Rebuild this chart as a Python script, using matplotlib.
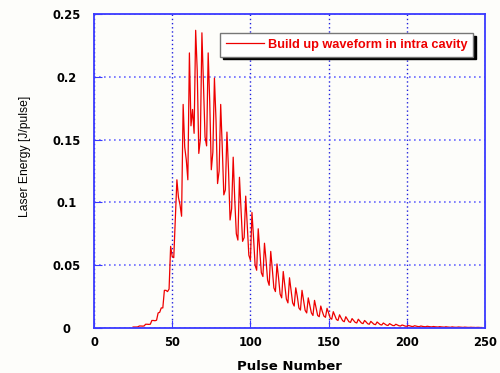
import numpy as np
import matplotlib
matplotlib.use("Agg")
import matplotlib.pyplot as plt

# pulse numbers and energy per pulse [J/pulse]
pulse = np.arange(25, 249)
energy = [
    0.0008, 0.0008, 0.0008, 0.0009,   # 25
    0.0016, 0.0016, 0.0015, 0.0016,   # 29
    0.0030, 0.0030, 0.0029, 0.0030,   # 33
    0.0060, 0.0060, 0.0058, 0.0062,   # 37
    0.0120, 0.0125, 0.0160, 0.0160,   # 41
    0.0300, 0.0300, 0.0290, 0.0310,   # 45
    0.0650, 0.0570, 0.0560, 0.0880,   # 49
    0.1180, 0.1040, 0.0980, 0.0890,   # 53
    0.1780, 0.1440, 0.1340, 0.1180,   # 57
    0.2190, 0.1610, 0.1740, 0.1550,   # 61
    0.2370, 0.2050, 0.1390, 0.1500,   # 65
    0.2350, 0.1920, 0.1520, 0.1450,   # 69
    0.2190, 0.1800, 0.1260, 0.1400,   # 73
    0.1990, 0.1660, 0.1150, 0.1250,   # 77
    0.1780, 0.1440, 0.1060, 0.1100,   # 81
    0.1560, 0.1260, 0.0860, 0.0950,   # 85
    0.1360, 0.1020, 0.0750, 0.0700,   # 89
    0.1200, 0.0950, 0.0690, 0.0720,   # 93
    0.1050, 0.0820, 0.0580, 0.0540,   # 97
    0.0920, 0.0720, 0.0500, 0.0460,   # 101
    0.0790, 0.0620, 0.0440, 0.0410,   # 105
    0.0675, 0.0540, 0.0380, 0.0340,   # 109
    0.0610, 0.0470, 0.0320, 0.0290,   # 113
    0.0510, 0.0400, 0.0270, 0.0240,   # 117
    0.0450, 0.0340, 0.0230, 0.0200,   # 121
    0.0400, 0.0300, 0.0200, 0.0175,   # 125
    0.0320, 0.0250, 0.0160, 0.0143,   # 129
    0.0300, 0.0220, 0.0140, 0.0120,   # 133
    0.0240, 0.0180, 0.0120, 0.0100,   # 137
    0.0220, 0.0160, 0.0100, 0.0090,   # 141
    0.0175, 0.0130, 0.0095, 0.0085,   # 145
    0.0157, 0.0120, 0.0080, 0.0070,   # 149
    0.0130, 0.0100, 0.0068, 0.0060,   # 153
    0.0105, 0.0080, 0.0058, 0.0050,   # 157
    0.0090, 0.0070, 0.0050, 0.0045,   # 161
    0.0075, 0.0060, 0.0045, 0.0040,   # 165
    0.0070, 0.0055, 0.0040, 0.0035,   # 169
    0.0060, 0.0048, 0.0034, 0.0030,   # 173
    0.0053, 0.0042, 0.0030, 0.0027,   # 177
    0.0048, 0.0038, 0.0027, 0.0024,   # 181
    0.0040, 0.0032, 0.0023, 0.0020,   # 185
    0.0035, 0.0028, 0.0020, 0.0019,   # 189
    0.0030, 0.0024, 0.0018, 0.0016,   # 193
    0.0024, 0.0020, 0.0015, 0.0014,   # 197
    0.0020, 0.0017, 0.0013, 0.0012,   # 201
    0.0018, 0.0015, 0.0012, 0.0011,   # 205
    0.0016, 0.0013, 0.0011, 0.0010,   # 209
    0.0014, 0.0012, 0.0010, 0.0009,   # 213
    0.0012, 0.0010, 0.0009, 0.0008,   # 217
    0.0011, 0.0009, 0.0008, 0.0007,   # 221
    0.0010, 0.0008, 0.0007, 0.0006,   # 225
    0.0009, 0.0007, 0.0006, 0.0006,   # 229
    0.0008, 0.0007, 0.0006, 0.0005,   # 233
    0.0007, 0.0006, 0.0005, 0.0005,   # 237
    0.0006, 0.0005, 0.0005, 0.0004,   # 241
    0.0005, 0.0005, 0.0004, 0.0004,   # 245
]

xticks = [0, 50, 100, 150, 200, 250]
yticks = [0, 0.05, 0.1, 0.15, 0.2, 0.25]
ytick_labels = ['0', '0.05', '0.1', '0.15', '0.2', '0.25']

bg = '#fdfdfa'
fig = plt.figure(figsize=(5, 3.73), dpi=100, facecolor=bg)
ax = fig.add_axes([0.188, 0.1206, 0.782, 0.8419], facecolor=bg)

ax.plot(pulse, energy, color='#ee0000', lw=0.9, label='Build up waveform in intra cavity')

ax.set_xlim(0, 250)
ax.set_ylim(0, 0.25)
ax.set_xticks(xticks)
ax.set_yticks(yticks)
ax.set_yticklabels(ytick_labels)

for s in ax.spines.values():
    s.set_color('#3a3aff')
    s.set_linewidth(1.3)
ax.tick_params(direction='in', length=6, color='#3a3aff')
ax.tick_params(axis='x', pad=6)
ax.tick_params(axis='y', pad=20)
for lab in ax.get_xticklabels() + ax.get_yticklabels():
    lab.set_fontweight('bold')
    lab.set_fontsize(8.3)
    lab.set_family('DejaVu Sans')
for lab in ax.get_yticklabels():
    lab.set_horizontalalignment('center')

ax.xaxis.grid(True, color='#2020dd', ls=(0, (1, 2)), lw=1.0)
ax.yaxis.grid(True, color='#6a6aff', ls=(0, (1, 2)), lw=1.2)

ax.set_xlabel('Pulse Number', fontsize=9.5, fontweight='bold', labelpad=8)
ax.set_ylabel('Laser Energy [J/pulse]', fontsize=8.7, family='Liberation Sans')
ax.yaxis.set_label_coords(-0.161, 0.548)

leg = ax.legend(loc='upper right', bbox_to_anchor=(0.969, 0.939), borderaxespad=0,
                fancybox=False, shadow={'color': 'black', 'alpha': 1}, framealpha=1,
                edgecolor='#777777', facecolor='white', labelcolor='#ee0000',
                prop={'family': 'Liberation Sans', 'weight': 'bold', 'size': 9.2},
                handlelength=3.0, borderpad=0.45, handletextpad=0.25)
leg.get_frame().set_linewidth(1.0)

fig.savefig('out.png', dpi=100, facecolor=bg)
